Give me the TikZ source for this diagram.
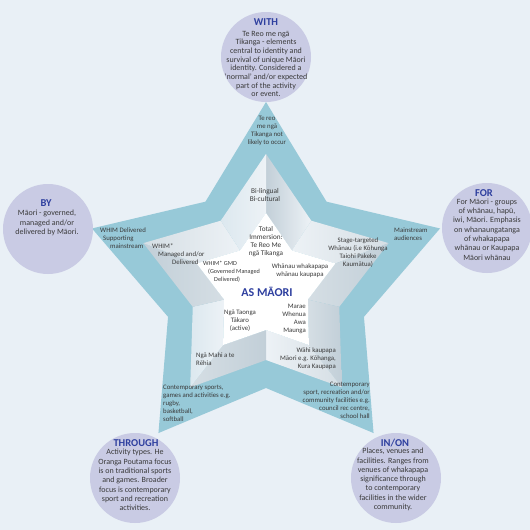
\documentclass[tikz,border=0pt]{standalone}
\usepackage{fontspec}
\setmainfont{Carlito}
\usetikzlibrary{calc}
\definecolor{bgc}{HTML}{E9F0F6}
\definecolor{circc}{HTML}{C9CBE4}
\definecolor{band}{HTML}{97C9D8}
\definecolor{ttl}{HTML}{2E3F9F}
\definecolor{txt}{HTML}{3A3A3A}
\definecolor{fLight}{HTML}{EDF2F6}
\definecolor{fBlue}{HTML}{DCE8EF}
\definecolor{fMid}{HTML}{D5DEE4}
\definecolor{fDark}{HTML}{C2CFD8}
\tikzset{
  bubble/.style={circle, fill=circc, minimum size=90pt, inner sep=0pt},
  ctext/.style={text=txt, align=center, inner sep=0pt, font=\fontsize{8}{9.3}\selectfont},
  ttext/.style={text=ttl, inner sep=0pt, font=\fontsize{10.5}{12}\selectfont\bfseries},
  stext/.style={text=txt, align=center, inner sep=0pt, font=\fontsize{6.8}{8}\selectfont},
  ltext/.style={stext, align=left},
  rtext/.style={stext, align=right},
}
\begin{document}
\begin{tikzpicture}[x=1pt,y=-1pt]
\useasboundingbox (0,0) rectangle (530,530);
\fill[bgc] (0,0) rectangle (530,530);

% star geometry
\coordinate (O) at (266,285);
\coordinate (Mc) at (266,283);
\coordinate (Wc) at (266,286);
\foreach \k in {0,...,4}{
  \coordinate (OT\k) at ($(O)+({-90+72*\k}:183)$);
  \coordinate (OC\k) at ($(O)+({-54+72*\k}:103)$);
  \coordinate (MT\k) at ($(Mc)+({-90+72*\k}:129)$);
  \coordinate (MC\k) at ($(Mc)+({-54+72*\k}:77)$);
  \coordinate (WT\k) at ($(Wc)+({-90+72*\k}:73)$);
  \coordinate (WC\k) at ($(Wc)+({-54+72*\k}:44)$);
}

% outer band
\fill[band] (OT0)--(OC0)--(OT1)--(OC1)--(OT2)--(OC2)--(OT3)--(OC3)--(OT4)--(OC4)--cycle;

% bevel facets of the middle star
\shade[left color=fDark, right color=fLight] (MT0)--(MC0)--(WC0)--(WT0)--cycle;
\shade[left color=fLight, right color=fMid] (MC0)--(MT1)--(WT1)--(WC0)--cycle;
\shade[left color=fMid, right color=fDark] (MT1)--(MC1)--(WC1)--(WT1)--cycle;
\shade[left color=fMid, right color=fDark] (MC1)--(MT2)--(WT2)--(WC1)--cycle;
\shade[left color=fLight, right color=fMid] (MT2)--(MC2)--(WC2)--(WT2)--cycle;
\shade[left color=fMid, right color=fDark] (MC2)--(MT3)--(WT3)--(WC2)--cycle;
\shade[left color=fBlue, right color=fLight] (MT3)--(MC3)--(WC3)--(WT3)--cycle;
\shade[left color=fDark, right color=fMid] (MC3)--(MT4)--(WT4)--(WC3)--cycle;
\shade[left color=fMid, right color=fLight] (MT4)--(MC4)--(WC4)--(WT4)--cycle;
\shade[left color=fBlue, right color=fLight] (MC4)--(MT0)--(WT0)--(WC4)--cycle;

% inner white star
\fill[white] (WT0)--(WC0)--(WT1)--(WC1)--(WT2)--(WC2)--(WT3)--(WC3)--(WT4)--(WC4)--cycle;

% circles
\node[bubble] (with) at (266,57) {};
\node[bubble] (by) at (48,229) {};
\node[bubble] (for) at (487,228) {};
\node[bubble] (through) at (135,478) {};
\node[bubble] (inon) at (396,478) {};

\node[ttext] (withT) at (266,22.5) {WITH};
\node[ctext, font=\fontsize{8}{8.7}\selectfont] (withB) at (266,64) {Te Reo me ngā\\Tikanga - elements\\central to identity and\\survival of unique Māori\\identity. Considered a\\‘normal’ and/or expected\\part of the activity\\or event.};

\node[ttext] (byT) at (46,203) {BY};
\node[ctext] (byB) at (47,223) {Māori - governed,\\managed and/or\\delivered by Māori.};

\node[ttext] (forT) at (484,193) {FOR};
\node[ctext] (forB) at (487,229.5) {For Māori - groups\\of whānau, hapū,\\iwi, Māori. Emphasis\\on whanaungatanga\\of whakapapa\\whānau or Kaupapa\\Māori whānau};

\node[ttext] (throughT) at (136,443) {THROUGH};
\node[ctext] (throughB) at (135,480) {Activity types. He\\Oranga Poutama focus\\is on traditional sports\\and games. Broader\\focus is contemporary\\sport and recreation\\activities.};

\node[ttext] (inonT) at (395,443) {IN/ON};
\node[ctext] (inonB) at (393,479.5) {Places, venues and\\facilities. Ranges from\\venues of whakapapa\\significance through\\to contemporary\\facilities in the wider\\community.};

% star texts
\node[stext] (reo) at (267,131) {Te reo\\me ngā\\Tikanga not\\likely to occur};
\node[stext, font=\fontsize{7.3}{8.5}\selectfont] (bil) at (265,195) {Bi-lingual\\Bi-cultural};
\node[stext, font=\fontsize{7.2}{8}\selectfont] (total) at (266,242) {Total\\Immersion:\\Te Reo Me\\ngā Tikanga};
\node[ltext, anchor=west] (whimd) at (100,238) {WHIM Delivered\\\hspace*{3pt}Supporting\\\hspace*{10pt}mainstream};
\node[ltext, anchor=west] (whimm) at (152,254) {WHIM*\\\hspace*{6pt}Managed and/or\\\hspace*{20pt}Delivered};
\node[ltext, anchor=west, font=\fontsize{6.2}{8}\selectfont] (gmd) at (203,272) {WHIM* GMD\\\hspace*{5pt}(Governed Managed\\\hspace*{11pt}Delivered)};
\node[stext] (stage) at (358,253) {Stage-targeted\\Whānau (i.e Kōhunga\\Taiohi Pakeke\\Kaumātua)};
\node[ltext, anchor=west] (mainst) at (394,234) {Mainstream\\audiences};
\node[stext] (whanau) at (300,271) {Whānau whakapapa\\whānau kaupapa};
\node[text=ttl, inner sep=0pt, font=\fontsize{12}{14}\selectfont\bfseries] (asm) at (267,292) {AS MĀORI};
\node[stext] (taonga) at (240,321) {Ngā Taonga\\Tākaro\\(active)};
\node[rtext, anchor=east] (marae) at (306,319) {Marae\\Whenua\\Awa\\Maunga};
\node[rtext, anchor=east] (wahi) at (336,359) {Wāhi kaupapa\\Māori e.g. Kōhanga,\\Kura Kaupapa};
\node[ltext, anchor=west] (mahi) at (196,359) {Ngā Mahi a te\\Rēhia};
\node[ltext, anchor=west] (csports) at (163,403) {Contemporary sports,\\games and activities e.g.\\ rugby,\\basketball,\\softball};
\node[rtext, anchor=east] (csport) at (370,400) {Contemporary\\sport, recreation and/or\\community facilities e.g.\\council rec centre,\\school hall};
\end{tikzpicture}
\end{document}
